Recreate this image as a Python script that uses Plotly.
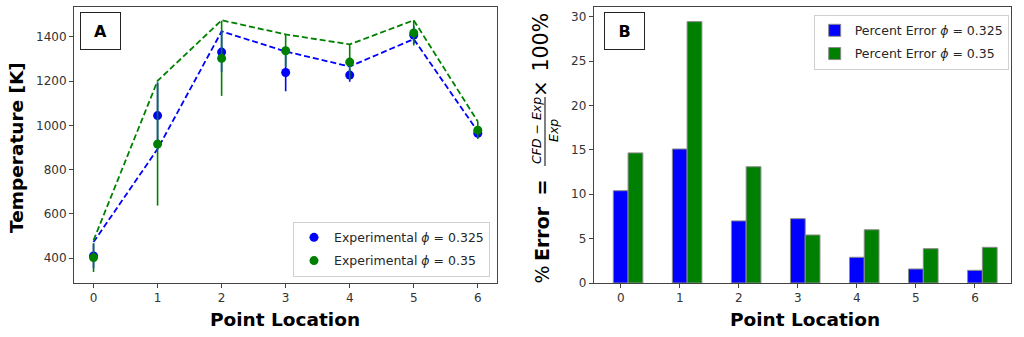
import plotly.graph_objects as go

# ---------------- data ----------------
points = [0, 1, 2, 3, 4, 5, 6]

exp_325 = [409, 1044, 1331, 1239, 1227, 1408, 964]
exp_325_err = [55, 150, 90, 85, 30, 40, 20]
exp_35 = [402, 915, 1303, 1337, 1286, 1418, 978]
exp_35_err = [65, 278, 170, 73, 80, 57, 40]

cfd_325 = [472, 893, 1425, 1334, 1266, 1390, 972]
cfd_35 = [480, 1201, 1475, 1411, 1366, 1475, 1017]

perr_325 = [10.4, 15.1, 7.0, 7.25, 2.9, 1.58, 1.43]
perr_35 = [14.66, 29.45, 13.1, 5.41, 6.0, 3.87, 4.02]

BLUE = "#0000ff"
GREEN = "#008000"
FRAME = "#444444"
TXT = "#262626"

W, H = 1024, 337
TOP, BOT = 7, 283  # plot area pixel rows


def px(x):
    return x / W


def py(y):
    return (BOT - y) / (BOT - TOP)


fig = go.Figure()

# ---- Panel A ----
fig.add_trace(go.Scatter(x=points, y=cfd_325, mode="lines",
                         line=dict(color=BLUE, width=1.8, dash="6px,3px"),
                         showlegend=False, xaxis="x", yaxis="y"))
fig.add_trace(go.Scatter(x=points, y=cfd_35, mode="lines",
                         line=dict(color=GREEN, width=1.8, dash="6px,3px"),
                         showlegend=False, xaxis="x", yaxis="y"))
fig.add_trace(go.Scatter(x=points, y=exp_325, mode="markers",
                         marker=dict(color=BLUE, size=9),
                         error_y=dict(type="data", array=exp_325_err, color=BLUE,
                                      thickness=1.6, width=0),
                         name="Experimental <i>ϕ</i> = 0.325", legendgroup="a1",
                         legend="legend", xaxis="x", yaxis="y"))
fig.add_trace(go.Scatter(x=points, y=exp_35, mode="markers",
                         marker=dict(color=GREEN, size=9),
                         error_y=dict(type="data", array=exp_35_err, color=GREEN,
                                      thickness=1.6, width=0),
                         name="Experimental <i>ϕ</i> = 0.35", legendgroup="a2",
                         legend="legend", xaxis="x", yaxis="y"))

# ---- Panel B ----
fig.add_trace(go.Bar(x=points, y=perr_325, width=0.25, offset=-0.125,
                     marker=dict(color=BLUE, line=dict(color="#8a8a8a", width=1)),
                     name="Percent Error <i>ϕ</i> = 0.325", legendgroup="b1",
                     legend="legend2", xaxis="x2", yaxis="y2"))
fig.add_trace(go.Bar(x=points, y=perr_35, width=0.25, offset=0.125,
                     marker=dict(color=GREEN, line=dict(color="#8a8a8a", width=1)),
                     name="Percent Error <i>ϕ</i> = 0.35", legendgroup="b2",
                     legend="legend2", xaxis="x2", yaxis="y2"))

axis_common = dict(showline=True, mirror=True, linecolor=FRAME, linewidth=1,
                   ticks="outside", ticklen=4, tickcolor=FRAME, tickwidth=1,
                   showgrid=False, zeroline=False,
                   tickfont=dict(family="DejaVu Sans", size=12, color="#333333"))

fig.update_layout(
    width=W, height=H,
    margin=dict(l=0, r=0, t=TOP, b=H - BOT, pad=0),
    paper_bgcolor="white", plot_bgcolor="white",
    barmode="overlay",
    font=dict(family="DejaVu Sans", color=TXT),
    xaxis=dict(domain=[px(74), px(497)], range=[-0.305, 6.3],
               tickvals=points, anchor="y", **axis_common),
    yaxis=dict(domain=[0, 1], range=[287, 1535],
               tickvals=[400, 600, 800, 1000, 1200, 1400], anchor="x", **axis_common),
    xaxis2=dict(domain=[px(593.7), px(1011)], range=[-0.457, 6.61],
                tickvals=points, anchor="y2", **axis_common),
    yaxis2=dict(domain=[0, 1], range=[0, 31.1],
                tickvals=[0, 5, 10, 15, 20, 25, 30], anchor="x2", **axis_common),
    legend=dict(x=px(490), y=py(276.7), xanchor="right", yanchor="bottom",
                bgcolor="rgba(255,255,255,0.85)", bordercolor="#d0d0d0", borderwidth=1,
                font=dict(family="DejaVu Sans", size=12.5, color=TXT),
                traceorder="grouped", tracegroupgap=4),
    legend2=dict(x=px(1008.7), y=py(14.7), xanchor="right", yanchor="top",
                 bgcolor="rgba(255,255,255,0.85)", bordercolor="#d0d0d0", borderwidth=1,
                 font=dict(family="DejaVu Sans", size=12.5, color=TXT),
                 traceorder="grouped", tracegroupgap=4),
)

ann = []
# Panel labels
for label, cx in (("A", 100.3), ("B", 624.2)):
    ann.append(dict(text=f"<b>{label}</b>", x=px(cx), y=py(30.7), xref="paper", yref="paper",
                    xanchor="center", yanchor="middle", showarrow=False,
                    font=dict(family="DejaVu Sans", size=16, color="black"),
                    bgcolor="white", bordercolor="#222", borderwidth=1,
                    width=37, height=34, borderpad=1))
# Axis titles
title_font = dict(family="DejaVu Sans", size=18.5, color="black")
ann.append(dict(text="<b>Point Location</b>", x=px(284.7), y=py(319.5), xref="paper", yref="paper",
                xanchor="center", yanchor="middle", showarrow=False, font=title_font))
ann.append(dict(text="<b>Point Location</b>", x=px(804.5), y=py(319.5), xref="paper", yref="paper",
                xanchor="center", yanchor="middle", showarrow=False, font=title_font))
ann.append(dict(text="<b>Temperature [K]</b>", x=px(16.5), y=py(147.5), xref="paper", yref="paper",
                xanchor="center", yanchor="middle", showarrow=False, textangle=-90,
                font=title_font))


def vtext(text, cx, cy, size):
    ann.append(dict(text=text, x=px(cx), y=py(cy), xref="paper", yref="paper",
                    xanchor="center", yanchor="middle", showarrow=False, textangle=-90,
                    font=dict(family="DejaVu Sans", size=size, color="black")))


# Percent-error label built from pieces (fraction)
vtext("%", 541.5, 275, 19)
vtext("<b>Error</b>", 541.5, 233.5, 19)
vtext("<b>=</b>", 541.5, 188, 19)
vtext("<i>CFD − Exp</i>", 536, 131, 12.5)
vtext("<i>Exp</i>", 553, 131, 12.5)
vtext("×", 540, 89, 20)
vtext("100%", 540, 42.5, 20.5)
fig.update_layout(annotations=ann)

fig.add_shape(type="line", xref="paper", yref="paper",
              x0=px(545), x1=px(545), y0=py(97), y1=py(166),
              line=dict(color="black", width=1))

fig.write_html("out.html", config={"displayModeBar": False})
